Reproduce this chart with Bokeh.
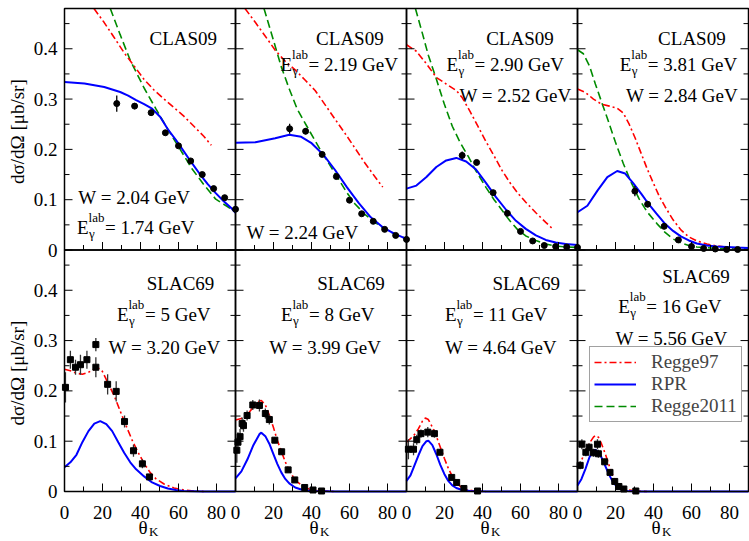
import math
from bokeh.plotting import figure
from bokeh.models import Range1d, Legend, LegendItem
from bokeh.core.properties import value
from bokeh.embed import file_html
from bokeh.resources import INLINE

# ---------------- data (theta_K in degrees, dsigma/dOmega in mub/sr) ----------------
# Panel 1: CLAS09, E=1.74 GeV
p1_th = [27.5, 36.9, 45.6, 53.1, 60.0, 66.4, 72.5, 78.5, 84.3, 90.0]
p1_sig = [0.291, 0.286, 0.273, 0.233, 0.207, 0.177, 0.150, 0.122, 0.104, 0.081]
p1_err = [0.016, 0.006, 0.006, 0.005, 0.004, 0.004, 0.003, 0.003, 0.003, 0.003]
p1_rpr_th = [0, 10.5, 20.9, 29.3, 33.5, 37.7, 41.9, 46.1, 50.3, 54.4, 58.6, 62.8, 67.0, 71.2, 75.4, 79.6, 83.8, 87.9, 90.0]
p1_rpr = [0.334, 0.331, 0.324, 0.314, 0.307, 0.298, 0.290, 0.281, 0.265, 0.240, 0.219, 0.196, 0.173, 0.151, 0.131, 0.113, 0.097, 0.083, 0.074]
p1_r97_th = [15.5, 20.9, 26.2, 31.4, 36.6, 41.9, 47.1, 52.4, 57.6, 62.8, 68.1, 73.3, 77.3]
p1_r97 = [0.480, 0.452, 0.422, 0.392, 0.366, 0.339, 0.318, 0.300, 0.283, 0.266, 0.246, 0.226, 0.208]
p1_r11_th = [24.1, 29.3, 34.6, 41.9, 48.2, 54.4, 60.7, 67.0, 73.3, 79.6, 85.9, 90.0]
p1_r11 = [0.480, 0.428, 0.377, 0.322, 0.280, 0.240, 0.201, 0.162, 0.130, 0.101, 0.086, 0.075]

# Panel 2: CLAS09, E=2.19 GeV
p2_th = [28.5, 36.9, 45.6, 53.1, 60.0, 66.4, 72.5, 78.5, 84.3, 90.0]
p2_sig = [0.241, 0.236, 0.190, 0.146, 0.099, 0.072, 0.057, 0.041, 0.029, 0.021]
p2_err = [0.010, 0.006, 0.005, 0.005, 0.004, 0.003, 0.003, 0.003, 0.002, 0.002]
p2_rpr_th = [0, 10.5, 20.9, 28.3, 34.6, 39.8, 46.1, 52.4, 58.6, 64.9, 71.2, 77.5, 83.8, 90.0]
p2_rpr = [0.213, 0.214, 0.222, 0.229, 0.225, 0.213, 0.190, 0.159, 0.125, 0.093, 0.065, 0.045, 0.032, 0.022]
p2_r97_th = [5.0, 10.5, 15.7, 20.9, 26.2, 31.4, 36.6, 41.9, 47.1, 52.4, 57.6, 62.8, 68.1, 73.3, 77.5]
p2_r97 = [0.480, 0.452, 0.425, 0.397, 0.375, 0.358, 0.338, 0.317, 0.289, 0.260, 0.232, 0.203, 0.173, 0.146, 0.125]
p2_r11_th = [15.0, 18.8, 24.1, 28.3, 32.5, 37.7, 41.9, 46.1, 50.3, 54.4, 58.6, 62.8, 68.1, 73.3, 78.5, 83.8, 90.0]
p2_r11 = [0.480, 0.432, 0.364, 0.320, 0.280, 0.245, 0.217, 0.190, 0.165, 0.140, 0.114, 0.092, 0.071, 0.055, 0.042, 0.032, 0.022]

# Panel 3: CLAS09, E=2.90 GeV
p3_th = [29.3, 36.9, 45.6, 53.1, 60.0, 66.4, 72.5, 78.5, 84.3, 90.0]
p3_sig = [0.188, 0.174, 0.114, 0.073, 0.037, 0.018, 0.009, 0.007, 0.006, 0.005]
p3_err = [0.008, 0.005, 0.004, 0.003, 0.002, 0.002, 0.001, 0.001, 0.001, 0.001]
p3_rpr_th = [0, 5.2, 10.5, 15.7, 20.9, 26.2, 31.4, 36.6, 41.9, 47.1, 52.4, 57.6, 62.8, 68.1, 73.3, 78.5, 83.8, 90.0]
p3_rpr = [0.122, 0.128, 0.145, 0.165, 0.178, 0.183, 0.176, 0.160, 0.133, 0.105, 0.080, 0.058, 0.042, 0.029, 0.020, 0.015, 0.012, 0.010]
p3_r97_th = [0, 5.2, 10.5, 15.7, 20.9, 26.2, 29.3, 33.5, 37.7, 41.9, 46.1, 50.3, 54.4, 58.6, 62.8, 68.1, 73.3, 77.5]
p3_r97 = [0.408, 0.395, 0.370, 0.343, 0.330, 0.317, 0.303, 0.275, 0.245, 0.215, 0.187, 0.158, 0.134, 0.113, 0.095, 0.074, 0.055, 0.040]
p3_r11_th = [4.7, 8.4, 11.5, 15.7, 19.9, 24.1, 28.3, 32.5, 36.6, 41.9, 46.1, 50.3, 54.4, 58.6, 62.8, 68.1, 73.3, 78.5, 83.8, 90.0]
p3_r11 = [0.480, 0.430, 0.387, 0.340, 0.290, 0.246, 0.213, 0.186, 0.157, 0.124, 0.100, 0.079, 0.058, 0.040, 0.028, 0.019, 0.012, 0.008, 0.006, 0.005]

# Panel 4: CLAS09, E=3.81 GeV
p4_th = [30.2, 36.9, 45.6, 53.1, 60.0, 66.4, 72.5, 78.5, 84.3]
p4_sig = [0.117, 0.091, 0.047, 0.020, 0.007, 0.003, 0.002, 0.001, 0.001]
p4_err = [0.010, 0.006, 0.004, 0.003, 0.002, 0.001, 0.001, 0.001, 0.001]
p4_rpr_th = [0, 5.2, 10.5, 15.7, 20.9, 25.1, 29.3, 33.5, 37.7, 41.9, 46.1, 50.3, 54.4, 58.6, 62.8, 68.1, 73.3, 83.8, 90.0]
p4_rpr = [0.075, 0.088, 0.118, 0.145, 0.157, 0.152, 0.133, 0.112, 0.090, 0.071, 0.052, 0.038, 0.027, 0.019, 0.013, 0.009, 0.007, 0.005, 0.004]
p4_r97_th = [0, 4.2, 8.4, 12.6, 16.8, 20.9, 24.1, 27.2, 30.4, 33.5, 36.6, 39.8, 42.9, 46.1, 50.3, 54.4, 58.6, 62.8, 68.1, 73.3, 79.6, 83.8]
p4_r97 = [0.320, 0.313, 0.300, 0.290, 0.286, 0.282, 0.272, 0.250, 0.222, 0.192, 0.162, 0.134, 0.108, 0.086, 0.060, 0.040, 0.026, 0.018, 0.012, 0.008, 0.005, 0.004]
p4_r11_th = [0, 3.1, 6.3, 9.4, 12.6, 15.7, 19.9, 24.1, 28.3, 32.5, 36.6, 41.9, 46.1, 50.3, 54.4, 58.6, 62.8, 73.3, 90.0]
p4_r11 = [0.398, 0.390, 0.366, 0.330, 0.295, 0.262, 0.215, 0.172, 0.134, 0.101, 0.076, 0.052, 0.035, 0.022, 0.014, 0.009, 0.006, 0.003, 0.002]

# Panel 5: SLAC69, E=5 GeV
p5_th = [0.5, 3.1, 5.8, 8.4, 11.8, 16.5, 16.5, 22.7, 27.2, 31.6, 36.3, 41.0, 44.7]
p5_sig = [0.207, 0.262, 0.247, 0.252, 0.262, 0.292, 0.247, 0.213, 0.199, 0.139, 0.081, 0.055, 0.029]
p5_err = [0.030, 0.018, 0.015, 0.020, 0.018, 0.013, 0.020, 0.020, 0.020, 0.012, 0.012, 0.009, 0.006]
p5_rpr_th = [0, 3.1, 6.3, 9.4, 12.6, 15.7, 18.8, 22.0, 25.1, 28.3, 31.4, 34.6, 37.7, 41.9, 46.1, 50.3, 54.4, 58.6, 62.8, 73.3, 90.0]
p5_rpr = [0.048, 0.058, 0.073, 0.098, 0.120, 0.135, 0.140, 0.134, 0.120, 0.098, 0.077, 0.058, 0.044, 0.030, 0.018, 0.011, 0.006, 0.003, 0.001, 0.0, 0.0]
p5_r97_th = [0, 3.1, 6.3, 9.4, 12.6, 15.7, 17.8, 19.9, 23.0, 26.2, 29.3, 32.5, 35.6, 38.7, 41.9, 45.0, 48.2, 52.4, 57.6, 62.8, 68.1, 73.3]
p5_r97 = [0.243, 0.240, 0.235, 0.233, 0.237, 0.243, 0.245, 0.239, 0.215, 0.190, 0.160, 0.130, 0.102, 0.078, 0.056, 0.038, 0.025, 0.015, 0.007, 0.003, 0.001, 0.0]

# Panel 6: SLAC69, E=8 GeV
p6_th = [0.7, 1.3, 2.4, 3.5, 4.2, 6.1, 9.1, 12.6, 15.7, 17.8, 20.7, 24.3, 27.7, 31.2, 36.4, 40.8, 45.3]
p6_sig = [0.082, 0.098, 0.109, 0.135, 0.131, 0.151, 0.172, 0.171, 0.155, 0.143, 0.102, 0.079, 0.043, 0.023, 0.008, 0.003, 0.001]
p6_err = [0.025, 0.020, 0.015, 0.012, 0.012, 0.010, 0.010, 0.012, 0.010, 0.010, 0.006, 0.006, 0.004, 0.003, 0.002, 0.001, 0.001]
p6_rpr_th = [0, 3.1, 6.3, 9.4, 12.6, 13.6, 15.7, 17.8, 19.9, 22.0, 24.1, 26.2, 28.3, 31.4, 34.6, 37.7, 41.9, 52.4, 90.0]
p6_rpr = [0.026, 0.040, 0.064, 0.092, 0.114, 0.117, 0.110, 0.095, 0.075, 0.055, 0.038, 0.025, 0.016, 0.008, 0.004, 0.002, 0.001, 0.0, 0.0]
p6_r97_th = [0, 3.1, 6.3, 9.4, 12.6, 13.6, 15.7, 17.8, 19.9, 22.0, 24.1, 26.2, 28.3, 30.4, 32.5, 35.6, 38.7, 41.9, 47.1, 52.4]
p6_r97 = [0.142, 0.145, 0.153, 0.168, 0.180, 0.181, 0.172, 0.152, 0.128, 0.102, 0.080, 0.059, 0.042, 0.029, 0.019, 0.010, 0.005, 0.002, 0.001, 0.0]

# Panel 7: SLAC69, E=11 GeV
p7_th = [1.0, 3.7, 5.4, 7.6, 11.2, 14.7, 17.6, 23.8, 26.4, 30.2, 37.4]
p7_sig = [0.084, 0.084, 0.103, 0.115, 0.118, 0.115, 0.078, 0.028, 0.018, 0.006, 0.001]
p7_err = [0.020, 0.012, 0.010, 0.008, 0.010, 0.008, 0.006, 0.004, 0.003, 0.002, 0.001]
p7_rpr_th = [0, 2.1, 4.2, 6.3, 8.4, 10.5, 11.5, 13.6, 15.7, 17.8, 19.9, 22.0, 24.1, 26.2, 29.3, 33.5, 41.9, 90.0]
p7_rpr = [0.021, 0.032, 0.052, 0.072, 0.090, 0.100, 0.101, 0.092, 0.074, 0.053, 0.035, 0.021, 0.012, 0.007, 0.003, 0.001, 0.0, 0.0]
p7_r97_th = [0, 2.1, 4.2, 6.3, 8.4, 9.9, 11.5, 13.6, 15.7, 17.8, 19.9, 22.0, 24.1, 26.2, 28.3, 31.4, 35.6, 41.9]
p7_r97 = [0.098, 0.105, 0.113, 0.125, 0.140, 0.146, 0.143, 0.128, 0.110, 0.088, 0.066, 0.046, 0.030, 0.018, 0.010, 0.004, 0.001, 0.0]

# Panel 8: SLAC69, E=16 GeV
p8_th = [1.4, 2.3, 4.4, 6.1, 8.4, 10.5, 11.0, 14.3, 17.1, 19.6, 21.8, 24.4, 30.7]
p8_sig = [0.052, 0.094, 0.078, 0.088, 0.077, 0.094, 0.075, 0.059, 0.038, 0.020, 0.010, 0.005, 0.001]
p8_err = [0.008, 0.010, 0.008, 0.008, 0.008, 0.010, 0.008, 0.006, 0.004, 0.003, 0.002, 0.001, 0.001]
p8_rpr_th = [0, 2.1, 4.2, 6.3, 8.4, 9.4, 11.0, 12.6, 14.7, 16.8, 18.8, 20.9, 23.0, 26.2, 31.4, 90.0]
p8_rpr = [0.012, 0.025, 0.045, 0.068, 0.082, 0.083, 0.079, 0.068, 0.050, 0.032, 0.018, 0.009, 0.004, 0.001, 0.0, 0.0]
p8_r97_th = [0, 2.1, 4.2, 6.3, 8.4, 9.4, 11.0, 12.6, 14.7, 16.8, 18.8, 20.9, 23.0, 26.2, 31.4, 36.6]
p8_r97 = [0.046, 0.062, 0.080, 0.096, 0.108, 0.111, 0.108, 0.095, 0.074, 0.050, 0.030, 0.016, 0.008, 0.003, 0.001, 0.0]

DATASET = ["CLAS09", "CLAS09", "CLAS09", "CLAS09", "SLAC69", "SLAC69", "SLAC69", "SLAC69"]
E_LAB = ["1.74", "2.19", "2.90", "3.81", "5", "8", "11", "16"]
W_CM = ["2.04", "2.24", "2.52", "2.84", "3.20", "3.99", "4.64", "5.56"]

X_MAJOR = [0, 20, 40, 60, 80]
X_MINOR = [10, 30, 50, 70]
X_LABELS = ["0", "20", "40", "60", "80"]
Y_MAJOR = [0, 0.1, 0.2, 0.3, 0.4]
Y_MINOR = [0.05, 0.15, 0.25, 0.35, 0.45]
Y_LABELS = ["0", "0.1", "0.2", "0.3", "0.4"]
Y_TITLE = "dσ/dΩ  [μb/sr]"
LEGEND_NAMES = ["Regge97", "RPR", "Regge2011"]

# ---------------- layout ----------------
# text anchors in panel units (theta, sigma)
TITLE_POS = [(62.5, 0.421), (60.2, 0.421), (59.7, 0.421), (60.2, 0.421),
             (61.1, 0.413), (60.8, 0.413), (63.0, 0.413), (62.4, 0.427)]
E_POS = [(6.6, 0.045), (23.7, 0.369), (21.1, 0.369), (22.3, 0.369),
         (27.6, 0.351), (23.9, 0.351), (20.2, 0.351), (21.5, 0.367)]
W_POS = [(7.3, 0.104), (5.8, 0.034), (27.9, 0.307), (25.5, 0.307),
         (23.2, 0.287), (17.8, 0.287), (20.2, 0.287), (20.0, 0.305)]

FONT = "Liberation Serif, Times New Roman, serif"
THETA_MAX = 90.0
SIG_MAX = 0.48
NCOL, NROW = 4, 2
W_PX, H_PX = 749, 541
LEFT_PX, TOP_PX = 64, 8
PANEL_W, PANEL_H = 171.0, 241.5
KX = PANEL_W / THETA_MAX
KY = PANEL_H / SIG_MAX
RED, BLUE, GREEN = "#ff0000", "#0000ff", "#008b00"


def x_range_for(c):
    start = -(LEFT_PX + c * PANEL_W) / KX
    return Range1d(start, start + W_PX / KX)


def y_range_for(r):
    bottom_px = TOP_PX + (r + 1) * PANEL_H
    return Range1d(-(H_PX - bottom_px) / KY, bottom_px / KY)


XN = ["default", "x1", "x2", "x3"]
YN = ["y0", "default"]

panels = [
    dict(th=p1_th, sig=p1_sig, err=p1_err, rpr=(p1_rpr_th, p1_rpr), r97=(p1_r97_th, p1_r97), r11=(p1_r11_th, p1_r11)),
    dict(th=p2_th, sig=p2_sig, err=p2_err, rpr=(p2_rpr_th, p2_rpr), r97=(p2_r97_th, p2_r97), r11=(p2_r11_th, p2_r11)),
    dict(th=p3_th, sig=p3_sig, err=p3_err, rpr=(p3_rpr_th, p3_rpr), r97=(p3_r97_th, p3_r97), r11=(p3_r11_th, p3_r11)),
    dict(th=p4_th, sig=p4_sig, err=p4_err, rpr=(p4_rpr_th, p4_rpr), r97=(p4_r97_th, p4_r97), r11=(p4_r11_th, p4_r11)),
    dict(th=p5_th, sig=p5_sig, err=p5_err, rpr=(p5_rpr_th, p5_rpr), r97=(p5_r97_th, p5_r97), r11=None),
    dict(th=p6_th, sig=p6_sig, err=p6_err, rpr=(p6_rpr_th, p6_rpr), r97=(p6_r97_th, p6_r97), r11=None),
    dict(th=p7_th, sig=p7_sig, err=p7_err, rpr=(p7_rpr_th, p7_rpr), r97=(p7_r97_th, p7_r97), r11=None),
    dict(th=p8_th, sig=p8_sig, err=p8_err, rpr=(p8_rpr_th, p8_rpr), r97=(p8_r97_th, p8_r97), r11=None),
]

p = figure(width=W_PX, height=H_PX, x_range=x_range_for(0), y_range=y_range_for(1),
           min_border=0, x_axis_location=None, y_axis_location=None,
           output_backend="svg", toolbar_location=None, tools="")
p.extra_x_ranges = {XN[c]: x_range_for(c) for c in range(1, NCOL)}
p.extra_y_ranges = {"y0": y_range_for(0)}
p.outline_line_color = None
p.background_fill_color = "white"
p.border_fill_color = "white"
for g in p.grid:
    g.visible = False


def txt(c, r, x, y, text, size="19px", dx=0, dy=0, align="left", baseline="alphabetic", angle=0.0):
    p.text(x=[x], y=[y], text=[text], x_offset=dx, y_offset=dy, angle=angle,
           text_font=value(FONT), text_font_size=size, text_align=align, text_baseline=baseline,
           text_color="black", x_range_name=XN[c], y_range_name=YN[r])


TICK_MAJ, TICK_MIN = 8, 5
legend_r = {}
for i, pan in enumerate(panels):
    c, r = i % NCOL, i // NCOL
    kw = dict(x_range_name=XN[c], y_range_name=YN[r])
    # curves
    if pan["r11"] is not None:
        legend_r["Regge2011"] = p.line(*pan["r11"], line_color=GREEN, line_width=1.6, line_dash="8 4", **kw)
    legend_r["Regge97"] = p.line(*pan["r97"], line_color=RED, line_width=1.6, line_dash="7 3 2 3", **kw)
    legend_r["RPR"] = p.line(*pan["rpr"], line_color=BLUE, line_width=2, **kw)
    # data with error bars
    lo = [s - e for s, e in zip(pan["sig"], pan["err"])]
    hi = [s + e for s, e in zip(pan["sig"], pan["err"])]
    ecol = "black" if r == 0 else "#333333"
    p.segment(x0=pan["th"], y0=lo, x1=pan["th"], y1=hi, line_color=ecol, line_width=1.3, **kw)
    p.scatter(pan["th"], pan["sig"], marker="circle" if r == 0 else "square", size=6,
              fill_color="black", line_color="black", **kw)
    # inward ticks
    for vals, L in ((Y_MAJOR, TICK_MAJ), (Y_MINOR, TICK_MIN)):
        n = len(vals)
        p.ray(x=[0] * n, y=vals, length=L, length_units="screen", angle=0, line_color="black", line_width=1, **kw)
        p.ray(x=[THETA_MAX] * n, y=vals, length=L, length_units="screen", angle=math.pi,
              line_color="black", line_width=1, **kw)
    for vals, L in ((X_MAJOR, TICK_MAJ), (X_MINOR, TICK_MIN)):
        n = len(vals)
        p.ray(x=vals, y=[0] * n, length=L, length_units="screen", angle=math.pi / 2,
              line_color="black", line_width=1, **kw)
    # panel frame
    p.quad(left=[0], right=[THETA_MAX], bottom=[0], top=[SIG_MAX], fill_color=None,
           line_color="black", line_width=1.5, **kw)
    # tick labels and axis titles
    if c == 0:
        p.text(x=[0] * len(Y_MAJOR), y=Y_MAJOR, text=Y_LABELS, x_offset=-7, text_align="right",
               text_baseline="middle", text_font=value(FONT), text_font_size="19px", text_color="black", **kw)
        txt(c, r, 0, SIG_MAX / 2, Y_TITLE, dx=-47, align="center", baseline="middle", angle=math.pi / 2)
    if r == NROW - 1:
        p.text(x=X_MAJOR, y=[0] * len(X_MAJOR), text=X_LABELS, y_offset=21, text_align="center",
               text_baseline="alphabetic", text_font=value(FONT), text_font_size="19px", text_color="black", **kw)
        txt(c, r, THETA_MAX / 2, 0, "θ", dx=-7, dy=36, align="center")
        txt(c, r, THETA_MAX / 2, 0, "K", size="13px", dx=-1, dy=40)
    # panel texts
    txt(c, r, *TITLE_POS[i], DATASET[i], align="center")
    ex, ey = E_POS[i]
    txt(c, r, ex, ey, "E")
    txt(c, r, ex, ey, "lab", size="13px", dx=11.5, dy=-10)
    txt(c, r, ex, ey, "γ", size="13px", dx=12, dy=6)
    txt(c, r, ex, ey, f"= {E_LAB[i]} GeV", dx=28)
    txt(c, r, *W_POS[i], f"W = {W_CM[i]} GeV")

legend = Legend(items=[LegendItem(label=n, renderers=[legend_r[n]]) for n in LEGEND_NAMES],
                location=(589, 119), label_text_font=FONT, label_text_font_size="19px",
                glyph_width=42, glyph_height=20, label_height=20, label_standoff=15,
                spacing=-4, padding=4, margin=0, border_line_color="#444444", border_line_width=1,
                background_fill_color="white", background_fill_alpha=1.0)
p.add_layout(legend)

open("out.html", "w").write(file_html(p, INLINE))
